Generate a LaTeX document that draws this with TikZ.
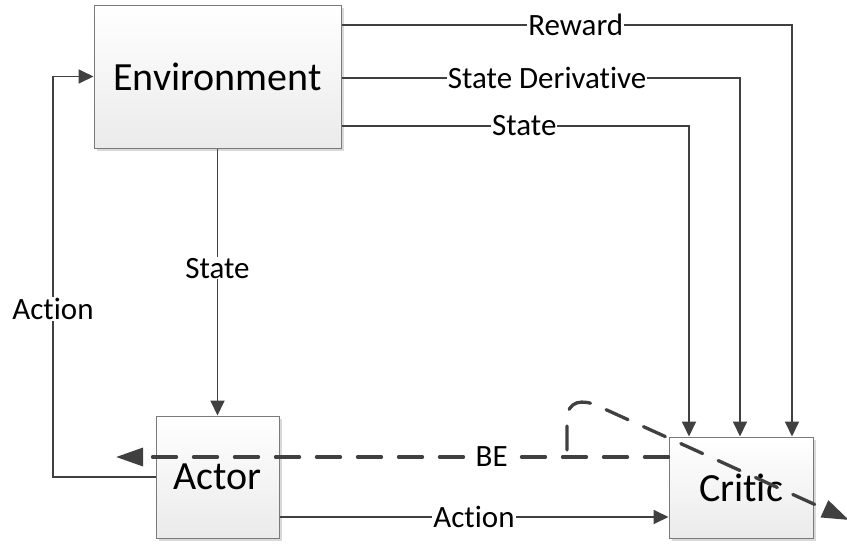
\documentclass[tikz,border=0pt]{standalone}
\usepackage{fontspec}
\setmainfont{Carlito}[Ligatures=NoCommon]
\usetikzlibrary{arrows.meta,shadows}
\definecolor{ln}{HTML}{404040}
\definecolor{bx}{HTML}{7A7A7A}
\tikzset{
  block/.style={draw=bx, line width=1pt, top color=white, bottom color=black!8,
    drop shadow={shadow xshift=3pt, shadow yshift=-3pt, fill=black!25, opacity=0.6},
    inner sep=0pt, font=\fontsize{40}{44}\selectfont},
  conn/.style={draw=ln, line width=1.8pt, -{Triangle[length=15pt,width=14pt]}},
  dconn/.style={draw=ln, line width=3.3pt, dash pattern=on 24pt off 17pt, line cap=round,
    -{Triangle[length=27pt,width=18pt]}},
  lbl/.style={fill=white, inner sep=1pt, text=black, font=\fontsize{31}{34}\selectfont}
}
\begin{document}
\begin{tikzpicture}[x=1pt,y=-1pt]
\useasboundingbox (0,0) rectangle (847,544);
\node[block, minimum width=247pt, minimum height=143pt] (env) at (217.5,76.5) {Environment};
\node[block, minimum width=123pt, minimum height=122pt] (actor) at (217.5,477) {Actor};
\node[block, minimum width=144pt, minimum height=101pt] (critic) at (741,487.5) {Critic};

\draw[conn] (env.east |- 0,25) -- node[lbl, pos=0.52]{Reward} (792,25) -- (792,0 |- critic.north);
\draw[conn] (env.east |- 0,78) -- node[lbl, pos=0.516]{State Derivative} (740,78) -- (740,0 |- critic.north);
\draw[conn] (env.east |- 0,126) -- node[lbl, pos=0.526]{State} (689,126) -- (689,0 |- critic.north);
\draw[conn] (env.south) -- node[lbl, pos=0.448]{State} (actor.north);
\draw[conn] (actor.west) -- (53,477) -- node[lbl, pos=0.42]{Action} (53,76.5) -- (env.west);
\draw[conn] (actor.east |- 0,517) -- node[lbl, pos=0.5]{Action} (critic.west |- 0,517);

\coordinate (beend) at (116,457);
\coordinate (tail) at (849,520);
\draw[dconn] (critic.west |- 0,457) -- node[lbl, pos=0.32]{BE} (beend);
\draw[dconn] (567,450) -- (567,420) .. controls (567,400) and (583,399) .. (598,406) -- (tail);
\end{tikzpicture}
\end{document}
